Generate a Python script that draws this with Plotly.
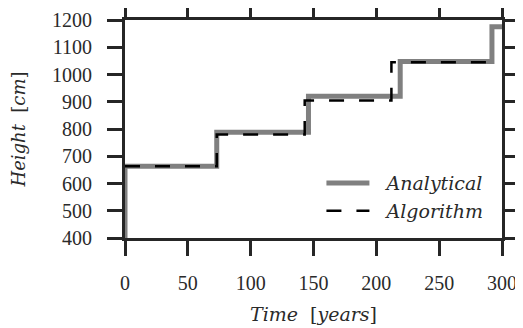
import plotly.graph_objects as go

# Analytical solution (step function, hv)
t_analytical = [0, 0, 73, 146, 219, 292, 300]
h_analytical = [400, 663, 788, 920, 1048, 1175, 1175]

# Algorithm result (step function, hv)
t_algorithm = [0, 73, 143, 212, 292]
h_algorithm = [663, 780, 905, 1045, 1045]

x_ticks = [0, 50, 100, 150, 200, 250, 300]
y_ticks = [400, 500, 600, 700, 800, 900, 1000, 1100, 1200]

TICKFONT = "Liberation Serif"
ITFONT = "DejaVu Serif"
AX = "#262626"
TXT = "#2a2a2a"

fig = go.Figure()
fig.add_trace(go.Scatter(
    x=t_analytical, y=h_analytical, mode="lines", line_shape="hv",
    name="\u00a0\u00a0<i>Analytical</i>", legendgroup="a",
    line=dict(color="#808080", width=5),
))
fig.add_trace(go.Scatter(
    x=t_algorithm, y=h_algorithm, mode="lines", line_shape="hv",
    name="\u00a0\u00a0<i>Algorithm</i>", legendgroup="b",
    line=dict(color="black", width=2.5, dash="15px,15px"),
))

axis_common = dict(
    showgrid=False, zeroline=False, showline=True, linecolor=AX, linewidth=3,
    mirror="ticks", ticks="outside", ticklen=15, tickwidth=2.5, tickcolor=AX,
    tickfont=dict(family=TICKFONT, size=20, color=TXT),
    automargin=False,
)

# page body has an 8px margin, so the figure is 8px smaller and margins shifted
fig.update_layout(
    width=515, height=320,
    margin=dict(l=117, r=21, t=12, b=90),
    paper_bgcolor="white", plot_bgcolor="white",
    font=dict(family=ITFONT, color=TXT),
    xaxis=dict(range=[0, 300], tickvals=x_ticks, ticklabelstandoff=10, **axis_common,
               title=dict(text="<i>Time</i>\u00a0\u00a0[<i>years</i>]",
                          font=dict(family=ITFONT, size=19, color=TXT), standoff=15)),
    yaxis=dict(range=[400, 1200], tickvals=y_ticks, ticklabelstandoff=11, **axis_common,
               title=dict(text="<i>Height</i>\u00a0\u00a0[<i>cm</i>]",
                          font=dict(family=ITFONT, size=18, color=TXT), standoff=24)),
    legend=dict(x=0.964, y=0.339, xanchor="right", yanchor="top",
                bgcolor="rgba(0,0,0,0)", borderwidth=0,
                font=dict(family=ITFONT, size=19, color=TXT),
                itemwidth=43, tracegroupgap=0),
    showlegend=True,
)

fig.write_html("out.html")
